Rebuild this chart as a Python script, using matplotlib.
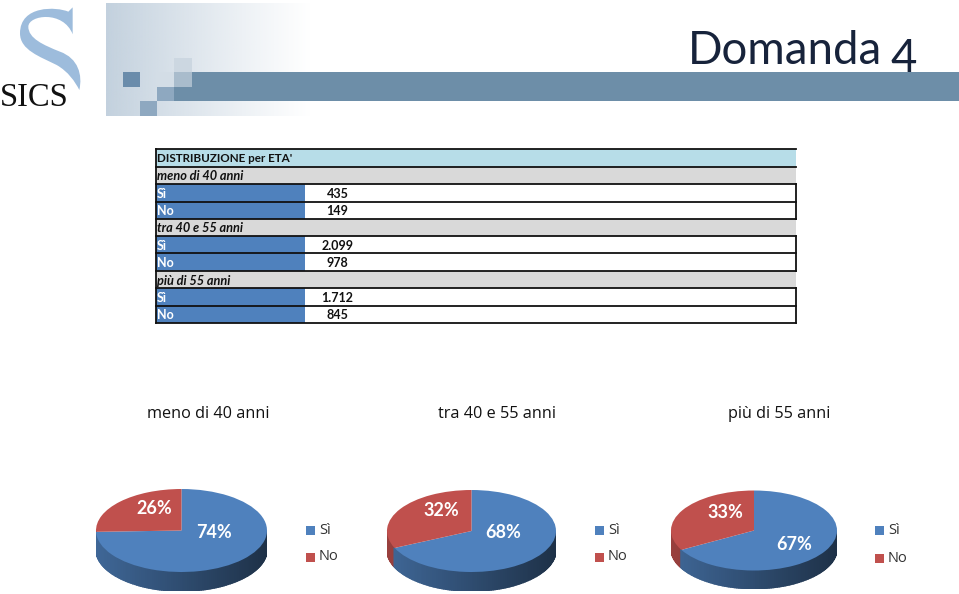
import numpy as np
import matplotlib
matplotlib.use("Agg")
import matplotlib.pyplot as plt
from matplotlib.patches import Rectangle, PathPatch
from matplotlib.path import Path
from matplotlib.colors import to_rgb

plt.rcParams['font.family'] = ['Lato', 'DejaVu Sans']

# dati
table_title = "DISTRIBUZIONE per ETA'"
groups = ["meno di 40 anni", "tra 40 e 55 anni", "più di 55 anni"]
answers = ["Sì", "No"]
si_values = [435, 2099, 1712]
no_values = [149, 978, 845]
si_labels = ["435", "2.099", "1.712"]
no_labels = ["149", "978", "845"]

BLUE = "#4f81bd"
RED = "#c0504d"

W, H = 959, 594
fig = plt.figure(figsize=(W / 100, H / 100), dpi=100)
ax = fig.add_axes([0, 0, 1, 1])
ax.set_axis_off()

# banner in alto
grad = np.ones((2, 256, 4))
grad[..., :3] = to_rgb("#c3d1de")
grad[..., 3] = np.linspace(1, 0, 256) ** 1.1
ax.imshow(grad, extent=(106, 312, 116, 3), aspect="auto", zorder=1)
ax.add_patch(Rectangle((174, 87), 785, 14, color="#6d8ea8", lw=0, zorder=2))
ax.add_patch(Rectangle((192, 72), 767, 15, color="#6d8ea8", lw=0, zorder=2))
squares = [(123, 72, 17, 15, "#6a8cab"), (174, 58, 18, 14, "#ccd7e1"), (174, 72, 18, 15, "#a9bccc"),
           (157, 72, 17, 15, "#d3dde6"), (157, 87, 17, 14, "#8ea8c0"), (140, 101, 17, 15, "#8ea8c0")]
for x, y, w, h, c in squares:
    ax.add_patch(Rectangle((x, y), w, h, color=c, lw=0, zorder=2))

# logo SICS
s_verts = [(218, 22), (205, 35),
           (170, 20), (60, 15), (60, 100),
           (60, 150), (120, 170), (170, 195),
           (205, 215), (225, 245), (238, 270),
           (248, 225), (235, 175), (180, 155),
           (130, 135), (85, 115), (85, 80),
           (85, 45), (190, 30), (218, 103),
           (218, 22)]
s_codes = [Path.MOVETO, Path.LINETO] + [Path.CURVE4] * 18 + [Path.LINETO]
s_path = Path([(x / 3, y / 3) for x, y in s_verts], s_codes)
ax.add_patch(PathPatch(s_path, fc="#9dbcdc", ec="none", zorder=2))
ax.text(34.5, 105.5, "SICS", family="Liberation Serif", fontsize=23.5, color="#111111", ha="center", va="baseline", zorder=3)

# titolo
ax.text(882, 64, "Domanda", fontsize=32.8, color="#17233b", ha="right", va="baseline", zorder=3)
ax.text(917, 72, "4", fontsize=32.8, color="#17233b", ha="right", va="baseline", zorder=3)

# tabella
rows_y = [149, 166.7, 184, 201.7, 219, 236, 253.3, 271, 288.3, 305.7, 323]
x0, x1, xc = 156, 796, 304.5
ax.add_patch(Rectangle((x0, rows_y[0]), x1 - x0, rows_y[1] - rows_y[0], fc="#b7dde8", ec="none", zorder=2))
ax.text(x0 + 1, (rows_y[0] + rows_y[1]) / 2 + 1, table_title, fontsize=8.4, fontweight="bold", color="#111111", va="center", zorder=4)
r = 1
for i, g in enumerate(groups):
    ax.add_patch(Rectangle((x0, rows_y[r]), x1 - x0, rows_y[r + 1] - rows_y[r], fc="#d9d9d9", ec="none", zorder=2))
    ax.text(x0 + 1, (rows_y[r] + rows_y[r + 1]) / 2 + 1, g, fontsize=9.2, fontstyle="italic", fontweight="bold", color="#111111", va="center", zorder=4)
    for k, (a, lab) in enumerate(zip(answers, [si_labels[i], no_labels[i]])):
        top, bot = rows_y[r + 1 + k], rows_y[r + 2 + k]
        ax.add_patch(Rectangle((x0, top), xc - x0, bot - top, fc=BLUE, ec="none", zorder=2))
        ax.text(x0 + 1, (top + bot) / 2 + 1, a, fontsize=9, fontweight="bold", color="white", va="center", zorder=4)
        ax.text(337.5, (top + bot) / 2 + 1, lab, fontsize=9, fontweight="bold", color="#111111", ha="center", va="center", zorder=4)
    r += 3
for y in rows_y:
    ax.plot([x0, x1], [y, y], color="#111111", lw=1.3, zorder=3)
ax.plot([x0, x0], [rows_y[0], rows_y[-1]], color="#111111", lw=1.3, zorder=3)
for a, b in [(2, 4), (5, 7), (8, 10)]:
    ax.plot([x1, x1], [rows_y[a], rows_y[b]], color="#111111", lw=1.3, zorder=3)

ax.set_xlim(0, W)
ax.set_ylim(H, 0)

# torte 3D
centers = [(181.5, 530.5, 85.5, 41.5, 19), (471.5, 531, 84.5, 41, 19), (754, 530.5, 83, 40, 18)]
title_x = [208, 497, 779]
si_pos = [(214, 533), (503, 533), (794, 544)]
no_pos = [(154, 509), (441, 511), (725, 512)]
legend_x = [306, 595, 875]
legend_y = [(530, 557), (530, 557), (530, 558)]


def shade(color, t):
    # t: 0 lato sinistro, 1 lato destro
    c = np.array(to_rgb(color))
    return tuple(c * (0.8 - 0.42 * t))


for i, (cx, cy, rx, ry, d) in enumerate(centers):
    ax.text(title_x[i], 414, groups[i], fontsize=11.7, color="#111111", ha="center", va="center", family="Open Sans")

    pax = fig.add_axes([(cx - rx) / W, 1 - (cy + ry + d) / H, 2 * rx / W, (2 * ry + d) / H])
    vals = [si_values[i], no_values[i]]
    si_frac = vals[0] / sum(vals)
    # parete laterale
    end_si = 90 - 360 * si_frac
    angles = np.linspace(-180, 0, 121)
    for a0, a1 in zip(angles[:-1], angles[1:]):
        mid = (a0 + a1) / 2
        col = BLUE if (mid > end_si or mid - 360 > end_si) else RED
        t0, t1 = np.radians(a0), np.radians(a1)
        xs = [np.cos(t0), np.cos(t1), np.cos(t1), np.cos(t0)]
        dy = d / ry
        ys = [np.sin(t0), np.sin(t1), np.sin(t1) - dy, np.sin(t0) - dy]
        c = shade(col, (np.cos(t0) + 1) / 2)
        pax.fill(xs, ys, color=c, lw=1.2, zorder=1, clip_on=True)
    pax.pie(vals, colors=[BLUE, RED], startangle=90, counterclock=False, radius=1,
            wedgeprops={"zorder": 2, "lw": 0})
    pax.set_aspect("auto")
    pax.set_xlim(-1, 1)
    pax.set_ylim(-1 - d / ry, 1)
    pax.patch.set_visible(False)

    fig.text(si_pos[i][0] / W, 1 - si_pos[i][1] / H, f"{round(100 * si_frac)}%", fontsize=13, fontweight="bold",
             color="white", ha="center", va="center", zorder=10)
    fig.text(no_pos[i][0] / W, 1 - no_pos[i][1] / H, f"{round(100 * (1 - si_frac))}%", fontsize=13, fontweight="bold",
             color="white", ha="center", va="center", zorder=10)

    for a, c, ly in zip(answers, [BLUE, RED], legend_y[i]):
        ax.add_patch(Rectangle((legend_x[i], ly - 4.5), 9, 9, color=c, lw=0))
        ax.text(legend_x[i] + 13, ly, a, fontsize=10.5, color="#333333", va="center", family="Open Sans")

fig.savefig("out.png", dpi=100)
